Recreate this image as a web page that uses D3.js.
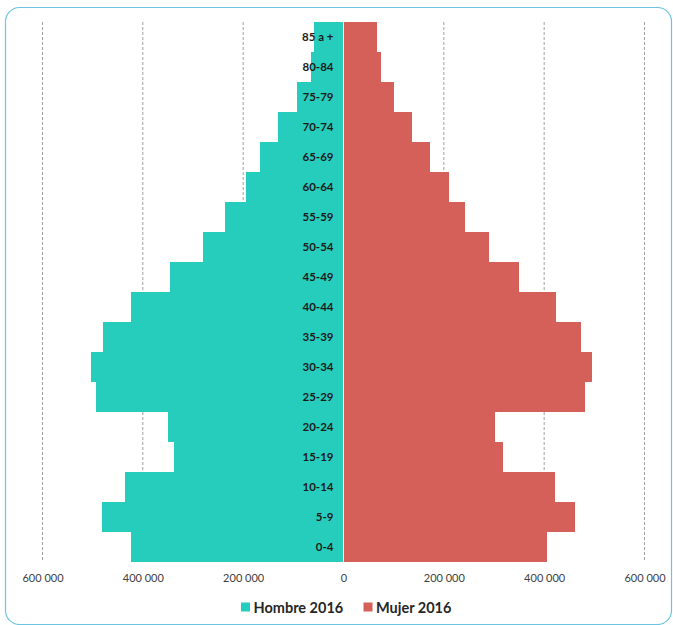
<!DOCTYPE html>
<html>
<head>
<meta charset="utf-8">
<script src="https://cdn.jsdelivr.net/npm/d3@7"></script>
<style>
  html, body { margin: 0; padding: 0; background: #ffffff; }
  svg { display: block; }
</style>
</head>
<body>
<svg id="chart" width="673" height="625"></svg>
<script>
// Población por grupo de edad y sexo, 2016
const categories = ["0-4", "5-9", "10-14", "15-19", "20-24", "25-29", "30-34", "35-39",
  "40-44", "45-49", "50-54", "55-59", "60-64", "65-69", "70-74", "75-79", "80-84", "85 a +"];
const hombre = [423000, 481000, 436000, 337000, 350000, 493000, 503000, 479000,
  423000, 345000, 281000, 237000, 194000, 166000, 131000, 93000, 65000, 59000];
const mujer = [405000, 461000, 421000, 318000, 301000, 481000, 495000, 473000,
  423000, 349000, 291000, 242000, 210000, 173000, 137000, 100000, 75000, 67000];
const tickValues = [-600000, -400000, -200000, 0, 200000, 400000, 600000];
const seriesNames = ["Hombre 2016", "Mujer 2016"];
const colors = ["#26CDBD", "#D5605A"];

const svg = d3.select("#chart");

// Frame
svg.append("rect")
  .attr("x", 5.5).attr("y", 7.5)
  .attr("width", 666).attr("height", 617)
  .attr("rx", 14).attr("ry", 14)
  .attr("fill", "#ffffff")
  .attr("stroke", "#6CC4E0")
  .attr("stroke-width", 1.2);

const x = d3.scaleLinear().domain([-600000, 600000]).range([42.5, 644.5]);
const y = d3.scaleBand().domain(categories.slice().reverse()).range([22, 562]).padding(0);

// Dashed vertical gridlines
svg.append("g").selectAll("line")
  .data(tickValues.filter(v => v !== 0))
  .join("line")
  .attr("x1", d => x(d)).attr("x2", d => x(d))
  .attr("y1", y.range()[0]).attr("y2", y.range()[1])
  .attr("stroke", "#a0a0a0")
  .attr("stroke-width", 1)
  .attr("stroke-dasharray", "3,2");

const rows = categories.map((c, i) => ({ c, h: hombre[i], m: mujer[i] }));
const gap = 0.6;

// Male bars (left)
svg.append("g").attr("shape-rendering", "crispEdges").selectAll("rect")
  .data(rows)
  .join("rect")
  .attr("x", d => x(-d.h))
  .attr("y", d => y(d.c))
  .attr("width", d => x(0) - x(-d.h) - gap)
  .attr("height", y.bandwidth())
  .attr("fill", colors[0]);

// Female bars (right)
svg.append("g").attr("shape-rendering", "crispEdges").selectAll("rect")
  .data(rows)
  .join("rect")
  .attr("x", x(0) + gap)
  .attr("y", d => y(d.c))
  .attr("width", d => x(d.m) - x(0) - gap)
  .attr("height", y.bandwidth())
  .attr("fill", colors[1]);

// Age group labels
svg.append("g").selectAll("text")
  .data(categories)
  .join("text")
  .attr("x", x(0) - 10)
  .attr("y", d => y(d) + y.bandwidth() / 2)
  .attr("dy", "0.35em")
  .attr("text-anchor", "end")
  .attr("font-family", "Lato, 'Open Sans', sans-serif")
  .attr("font-weight", "bold")
  .attr("font-size", "11.5px")
  .attr("fill", "#1a1a1a")
  .text(d => d);

// Bottom axis
const fmt = v => d3.format(",")(Math.abs(v)).replace(/,/g, " ");
const axis = svg.append("g")
  .attr("transform", `translate(0, ${y.range()[1] + 4})`)
  .call(d3.axisBottom(x).tickValues(tickValues).tickFormat(fmt).tickSize(0).tickPadding(8));
axis.select(".domain").remove();
axis.selectAll("text")
  .attr("font-family", "Lato, 'Open Sans', sans-serif")
  .attr("font-size", "11px")
  .attr("fill", "#404040");

// Legend
const legend = svg.append("g");
const legendItems = [
  { name: seriesNames[0], color: colors[0], x: 241 },
  { name: seriesNames[1], color: colors[1], x: 363.5 }
];
legendItems.forEach(it => {
  legend.append("rect")
    .attr("x", it.x).attr("y", 602.5)
    .attr("width", 9).attr("height", 9)
    .attr("fill", it.color);
  legend.append("text")
    .attr("x", it.x + 12.5).attr("y", 607.5)
    .attr("dy", "0.35em")
    .attr("font-family", "Lato, 'Open Sans', sans-serif")
    .attr("font-weight", "bold")
    .attr("font-size", "14.5px")
    .attr("fill", "#262626")
    .text(it.name);
});
</script>
</body>
</html>
